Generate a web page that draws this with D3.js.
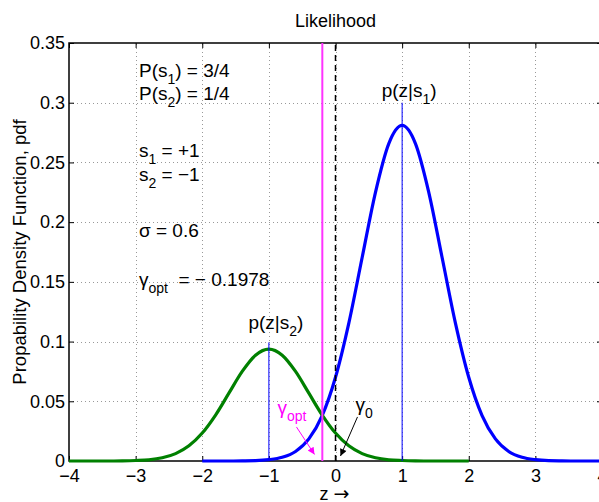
<!DOCTYPE html>
<html>
<head>
<meta charset="utf-8">
<script src="https://cdn.jsdelivr.net/npm/d3@7"></script>
<style>
body { margin: 0; background: #fff; }
svg text { font-family: "Liberation Sans", Arial, Helvetica, sans-serif; fill: #000; }
</style>
</head>
<body>
<svg id="chart" width="599" height="502"></svg>
<script>
// likelihood curves p(z|s1), p(z|s2) (step 0.2)
var zBlue = [-2.0, -1.8, -1.6, -1.4, -1.2, -1.0, -0.8, -0.6, -0.4, -0.2, 0.0,
             0.2, 0.4, 0.6, 0.8, 1.0, 1.2, 1.4, 1.6, 1.8, 2.0,
             2.2, 2.4, 2.6, 2.8, 3.0, 3.2, 3.4, 3.6, 3.8, 4.0];
var pBlue = [0, 0, 0, 0.0001, 0.0003, 0.0011, 0.0031, 0.0080, 0.0185, 0.0380, 0.0701,
             0.1155, 0.1704, 0.2250, 0.2658, 0.2810, 0.2658, 0.2250, 0.1704, 0.1155, 0.0701,
             0.0380, 0.0185, 0.0080, 0.0031, 0.0011, 0.0003, 0.0001, 0, 0, 0];

var zGreen = [-4.0, -3.8, -3.6, -3.4, -3.2, -3.0, -2.8, -2.6, -2.4, -2.2, -2.0,
              -1.8, -1.6, -1.4, -1.2, -1.0, -0.8, -0.6, -0.4, -0.2, 0.0,
              0.2, 0.4, 0.6, 0.8, 1.0, 1.2, 1.4, 1.6, 1.8, 2.0];
var pGreen = [0, 0, 0, 0, 0.0001, 0.0004, 0.0010, 0.0027, 0.0062, 0.0127, 0.0234,
              0.0385, 0.0568, 0.0750, 0.0886, 0.0937, 0.0886, 0.0750, 0.0568, 0.0385, 0.0234,
              0.0127, 0.0062, 0.0027, 0.0010, 0.0004, 0.0001, 0, 0, 0, 0];

var xTicks = [-4, -3, -2, -1, 0, 1, 2, 3, 4];
var yTicks = [0, 0.05, 0.1, 0.15, 0.2, 0.25, 0.3, 0.35];
var yTickLabels = ["0", "0.05", "0.1", "0.15", "0.2", "0.25", "0.3", "0.35"];

var gammaOpt = -0.1978;
var gamma0 = 0;

var svg = d3.select("#chart");

var x = d3.scaleLinear().domain([-4, 4]).range([69, 602]);
var y = d3.scaleLinear().domain([0, 0.35]).range([461, 43]);

var defs = svg.append("defs");
function marker(id, color) {
  defs.append("marker")
    .attr("id", id)
    .attr("viewBox", "0 0 10 10")
    .attr("refX", 10).attr("refY", 5)
    .attr("markerWidth", 9).attr("markerHeight", 7)
    .attr("markerUnits", "userSpaceOnUse")
    .attr("orient", "auto")
    .append("path")
    .attr("d", "M0,0L10,5L0,10Z")
    .attr("fill", color);
}
marker("headMag", "#ff00ff");
marker("headBlk", "#000");

// grid
var grid = svg.append("g").attr("stroke", "#999").attr("stroke-width", 1)
  .attr("stroke-dasharray", "1,3");
grid.selectAll(".gx").data(xTicks.slice(1, -1)).enter().append("line")
  .attr("x1", function(d) { return Math.round(x(d)) + 0.5; })
  .attr("x2", function(d) { return Math.round(x(d)) + 0.5; })
  .attr("y1", y(0)).attr("y2", y(0.35));
grid.selectAll(".gy").data(yTicks.slice(1, -1)).enter().append("line")
  .attr("y1", function(d) { return Math.round(y(d)) + 0.5; })
  .attr("y2", function(d) { return Math.round(y(d)) + 0.5; })
  .attr("x1", x(-4)).attr("x2", x(4));

// axes box and ticks (ticks inward, on all four sides)
svg.append("rect")
  .attr("x", x(-4)).attr("y", y(0.35))
  .attr("width", x(4) - x(-4)).attr("height", y(0) - y(0.35))
  .attr("fill", "none").attr("stroke", "#000").attr("stroke-width", 1.5);

var bottomAxis = d3.axisBottom(x).tickValues(xTicks).tickSize(-5).tickPadding(8)
  .tickFormat(d3.format("d"));
var gx = svg.append("g").attr("transform", "translate(0," + y(0) + ")").call(bottomAxis);
gx.select(".domain").remove();
gx.selectAll("text").attr("font-size", 18).attr("font-family", null);

var gxTop = svg.append("g").attr("transform", "translate(0," + y(0.35) + ")")
  .call(d3.axisTop(x).tickValues(xTicks).tickSize(-5).tickFormat(""));
gxTop.select(".domain").remove();

var leftAxis = d3.axisLeft(y).tickValues(yTicks).tickSize(-5).tickPadding(4)
  .tickFormat(function(d, i) { return yTickLabels[i]; });
var gy = svg.append("g").attr("transform", "translate(" + x(-4) + ",0)").call(leftAxis);
gy.select(".domain").remove();
gy.selectAll("text").attr("font-size", 18).attr("font-family", null);

var gyRight = svg.append("g").attr("transform", "translate(" + x(4) + ",0)")
  .call(d3.axisRight(y).tickValues(yTicks).tickSize(-5).tickFormat(""));
gyRight.select(".domain").remove();

svg.selectAll(".tick line").attr("stroke", "#000").attr("stroke-width", 1);

// curves
var line = d3.line().curve(d3.curveMonotoneX);
svg.append("path")
  .attr("d", line(zBlue.map(function(z, i) { return [x(z), y(pBlue[i])]; })))
  .attr("fill", "none").attr("stroke", "#0000ff").attr("stroke-width", 3.2);
svg.append("path")
  .attr("d", line(zGreen.map(function(z, i) { return [x(z), y(pGreen[i])]; })))
  .attr("fill", "none").attr("stroke", "#008000").attr("stroke-width", 3.2);

// means
svg.append("line")
  .attr("x1", x(1)).attr("x2", x(1)).attr("y1", y(0)).attr("y2", y(0.3))
  .attr("stroke", "#0000ff").attr("stroke-width", 1);
svg.append("line")
  .attr("x1", x(-1)).attr("x2", x(-1)).attr("y1", y(0)).attr("y2", y(0.0993))
  .attr("stroke", "#0000ff").attr("stroke-width", 1);

// thresholds
svg.append("line")
  .attr("x1", x(gammaOpt)).attr("x2", x(gammaOpt)).attr("y1", y(0)).attr("y2", y(0.35))
  .attr("stroke", "#ff33ff").attr("stroke-width", 2);
svg.append("line")
  .attr("x1", x(gamma0)).attr("x2", x(gamma0)).attr("y1", y(0)).attr("y2", y(0.35))
  .attr("stroke", "#000").attr("stroke-width", 1.5).attr("stroke-dasharray", "6,4");

// arrows
svg.append("line")
  .attr("x1", x(-0.586)).attr("y1", y(0.0285)).attr("x2", x(-0.315)).attr("y2", y(0.0055))
  .attr("stroke", "#ff00ff").attr("stroke-width", 1).attr("marker-end", "url(#headMag)");
svg.append("line")
  .attr("x1", x(0.33)).attr("y1", y(0.0369)).attr("x2", x(0.075)).attr("y2", y(0.0042))
  .attr("stroke", "#000").attr("stroke-width", 1).attr("marker-end", "url(#headBlk)");

// text helper: main text with subscript then tail
function subText(px, py, main, sub, tail, opts) {
  opts = opts || {};
  var t = svg.append("text")
    .attr("x", px).attr("y", py)
    .attr("font-size", opts.size || 19)
    .attr("text-anchor", opts.anchor || "start");
  if (opts.color) t.style("fill", opts.color);
  t.append("tspan").text(main);
  t.append("tspan").attr("dy", 7).attr("font-size", 14).text(sub);
  if (tail) t.append("tspan").attr("dy", -7).text(tail);
  return t;
}

var tx = x(-2.95);
subText(tx, y(0.3216), "P(s", "1", ") = 3/4");
subText(tx, y(0.3023), "P(s", "2", ") = 1/4");
subText(tx, y(0.2544), "s", "1", " = +1");
subText(tx, y(0.2348), "s", "2", " = \u22121");
svg.append("text").attr("x", tx).attr("y", y(0.1878)).attr("font-size", 19)
  .text("\u03c3 = 0.6");
subText(tx, y(0.1466), "\u03b3", "opt", "  = \u2212 0.1978").attr("xml:space", "preserve");

subText(x(1) + 7, y(0.2998) - 6, "p(z|s", "1", ")", { anchor: "middle" });
subText(x(-1) + 7, y(0.1106), "p(z|s", "2", ")", { anchor: "middle" });

subText(x(-0.87), y(0.0395), "\u03b3", "opt", "", { color: "#ff00ff" });
subText(x(0.30), y(0.0415), "\u03b3", "0", "");

// title and axis labels
svg.append("text").attr("x", (x(-4) + x(4)) / 2).attr("y", 27)
  .attr("text-anchor", "middle").attr("font-size", 18).text("Likelihood");
var xl = svg.append("text").attr("x", (x(-4) + x(4)) / 2 - 1).attr("y", 500)
  .attr("text-anchor", "middle").attr("font-size", 18);
xl.append("tspan").text("z ");
xl.append("tspan").attr("font-family", "DejaVu Sans").attr("font-size", 19).text("\u2192");
svg.append("text")
  .attr("transform", "translate(26," + (y(0) + y(0.35)) / 2 + ") rotate(-90)")
  .attr("text-anchor", "middle").attr("font-size", 18.5)
  .text("Propability Density Function, pdf");
</script>
</body>
</html>
